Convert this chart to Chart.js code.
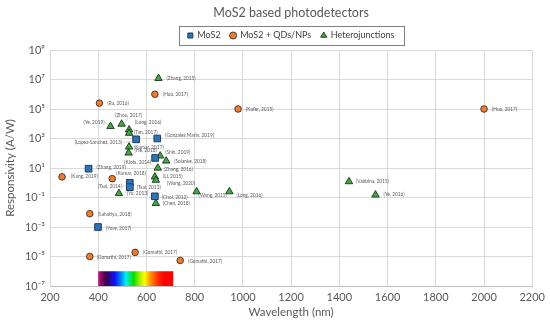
<!DOCTYPE html>
<html>
<head>
<meta charset="utf-8">
<title>MoS2 based photodetectors</title>
<script src="https://cdn.jsdelivr.net/npm/chart.js@4.4.1/dist/chart.umd.min.js"></script>
<style>
  html, body { margin: 0; padding: 0; background: #fff; }
  #wrap { width: 550px; height: 321px; }
</style>
</head>
<body>
<div id="wrap"><canvas id="chart" width="550" height="321"></canvas></div>
<script>
// Axis ticks
const xTicks = [200, 400, 600, 800, 1000, 1200, 1400, 1600, 1800, 2000, 2200];
const yTicks = [1e-7, 1e-5, 1e-3, 1e-1, 1e1, 1e3, 1e5, 1e7, 1e9];

// MoS2
const mos2Refs = ['(Gonzales Marin, 2019)', '(Lopez-Sanchez, 2013)', '(Klots, 2014)', '(Zhang, 2019)',
    '(Tsai, 2014)', '(Tsai, 2013)', '(Choi, 2012)', '(Yore, 2017)'];
const mos2Wavelength = [645, 557, 636, 360, 531, 531, 635, 399];
const mos2Responsivity = [1000, 880, 48, 9, 1.0, 0.5, 0.12, 1e-3];

// MoS2 + QDs/NPs
const qdRefs = ['(Huo, 2017)', '(Ra, 2016)', '(Kufer, 2015)', '(Huo, 2017)', '(Kang, 2019)', '(Kumar, 2018)',
    '(Sahatiya, 2018)', '(Gomathi, 2017)', '(Gomathi, 2017)', '(Gomathi, 2017)'];
const qdWavelength = [635, 405, 980, 2000, 250, 458, 365, 365, 553, 740];
const qdResponsivity = [1e6, 2.5e5, 1e5, 1e5, 2.5, 1.9, 8e-3, 1e-5, 1.9e-5, 5.4e-6];

// Heterojunctions
const hetRefs = ['(Zhang, 2015)', '(Zhou, 2017)', '(Ye, 2019)', '(Long, 2016)', '(Tan, 2017)', '(Kumar, 2017)',
    '(He, 2018)', '(Shin, 2019)', '(Solanke, 2018)', '(Zhang, 2016)', '(Li, 2015)', '(Wang, 2020)',
    '(Yu, 2013)', '(Chen, 2018)', '(Wang, 2015)', '(Long, 2016)', '(Vabbina, 2015)', '(Ye, 2016)'];
const hetWavelength = [650, 497, 451, 528, 528, 528, 526, 657, 682, 647, 635, 639, 486, 639, 808, 944, 1440, 1550];
const hetResponsivity = [1.2e7, 9.5e3, 6.6e3, 3.9e3, 2.3e3, 270, 105, 66, 30, 10, 2.5, 1.5, 0.19, 0.04, 0.25, 0.25, 1.2, 0.15];

// Visible spectrum band drawn under the axis
const spectrumRange = [400, 711];
const spectrumBand = [1e-7, 1e-6];

// Label placement next to each point: [dx, dy, side, leader]
const mos2LabelPos = [[8, -3, 'r'], [-14, 3, 'l', true], [-4, 4, 'l'], [8, -1, 'r'],
    [-8, 4, 'l', true], [7, 0, 'r'], [7, 1, 'r'], [8, 1, 'r']];
const qdLabelPos = [[8, 0, 'r'], [8, 0, 'r'], [8, 0, 'r'], [8, 0, 'r'], [9, 0, 'r'], [4, -5, 'r'],
    [8, 1, 'r'], [7, 1, 'r'], [8, 0, 'r'], [8, 1, 'r']];
const hetLabelPos = [[8, 0, 'r'], [7, -9, 'c', true], [-6, -4, 'l', true], [6, -7, 'r'], [5, -1, 'r'],
    [5, 1, 'r'], [6, -2, 'r'], [5, -3, 'r'], [8, 0, 'r'], [6, 1, 'r'], [8, 0, 'r'], [11, 3, 'r'],
    [8, 0, 'r'], [7, 0, 'r'], [2, 4, 'r'], [7, 4, 'r'], [7, 0, 'r'], [8, 0, 'r']];

const FONT = 'Lato, "DejaVu Sans", sans-serif';
const SUP = { '-': '\u207B', '0': '\u2070', '1': '\u00B9', '2': '\u00B2', '3': '\u00B3', '4': '\u2074',
    '5': '\u2075', '6': '\u2076', '7': '\u2077', '8': '\u2078', '9': '\u2079' };

function toPoints(xs, ys) {
    return xs.map((x, i) => ({ x: x, y: ys[i] }));
}

function powerLabel(v) {
    const e = Math.round(Math.log10(v));
    return '10' + String(e).split('').map(c => SUP[c]).join('');
}

// rainbow bar from 400 to ~710 nm
const spectrumBar = {
    id: 'spectrumBar',
    beforeDatasetsDraw(chart) {
        const { ctx, scales: { x, y } } = chart;
        const x0 = x.getPixelForValue(spectrumRange[0]);
        const x1 = x.getPixelForValue(spectrumRange[1]);
        const y0 = y.getPixelForValue(spectrumBand[1]);
        const y1 = y.getPixelForValue(spectrumBand[0]);
        const g = ctx.createLinearGradient(x0, 0, x1, 0);
        g.addColorStop(0.00, '#c0147a');
        g.addColorStop(0.10, '#3c0045');
        g.addColorStop(0.22, '#1010ff');
        g.addColorStop(0.30, '#0080ff');
        g.addColorStop(0.37, '#00f0f0');
        g.addColorStop(0.47, '#00e000');
        g.addColorStop(0.56, '#b0f000');
        g.addColorStop(0.62, '#ffff00');
        g.addColorStop(0.70, '#ff8c00');
        g.addColorStop(0.80, '#ff2a00');
        g.addColorStop(0.88, '#ff0000');
        g.addColorStop(1.00, '#ff0000');
        ctx.save();
        ctx.fillStyle = g;
        ctx.fillRect(x0, y0, x1 - x0, y1 - y0);
        ctx.restore();
    }
};

// small reference text beside every marker
const pointLabels = {
    id: 'pointLabels',
    afterDatasetsDraw(chart) {
        const ctx = chart.ctx;
        ctx.save();
        ctx.font = '4.8px ' + FONT;
        ctx.fillStyle = '#595959';
        ctx.textBaseline = 'middle';
        chart.data.datasets.forEach((ds, i) => {
            const meta = chart.getDatasetMeta(i);
            meta.data.forEach((pt, j) => {
                const [dx, dy, side, leader] = ds.labelPos[j];
                const lx = pt.x + dx;
                const ly = pt.y + dy;
                ctx.textAlign = side === 'l' ? 'right' : (side === 'c' ? 'center' : 'left');
                ctx.fillText(ds.refs[j], lx, ly);
                if (leader) {
                    ctx.strokeStyle = '#a6a6a6';
                    ctx.lineWidth = 0.5;
                    ctx.beginPath();
                    ctx.moveTo(pt.x + Math.sign(dx) * 3, pt.y + Math.sign(dy) * 2);
                    ctx.lineTo(lx - (side === 'r' ? 1 : 0), ly + (side === 'c' ? 3 : 0));
                    ctx.stroke();
                }
            });
        });
        ctx.restore();
    }
};

// framed legend like the original
const legendFrame = {
    id: 'legendFrame',
    afterDraw(chart) {
        const boxes = chart.legend && chart.legend.legendHitBoxes;
        if (!boxes || !boxes.length) return;
        const ctx = chart.ctx;
        const left = Math.min(...boxes.map(b => b.left)) - 9;
        const right = Math.max(...boxes.map(b => b.left + b.width)) + 9;
        const top = Math.min(...boxes.map(b => b.top)) - 5;
        const bottom = Math.max(...boxes.map(b => b.top + b.height)) + 5;
        ctx.save();
        ctx.strokeStyle = '#808080';
        ctx.lineWidth = 1;
        ctx.strokeRect(Math.round(left) + 0.5, Math.round(top) + 0.5, Math.round(right - left), Math.round(bottom - top));
        ctx.restore();
    }
};

new Chart(document.getElementById('chart').getContext('2d'), {
    type: 'scatter',
    data: {
        datasets: [{
            label: 'MoS2',
            data: toPoints(mos2Wavelength, mos2Responsivity),
            refs: mos2Refs,
            labelPos: mos2LabelPos,
            pointStyle: 'rect',
            pointRadius: 4.7,
            backgroundColor: '#2e75b6',
            borderColor: '#1f3a60',
            borderWidth: 1
        }, {
            label: 'MoS2 + QDs/NPs',
            data: toPoints(qdWavelength, qdResponsivity),
            refs: qdRefs,
            labelPos: qdLabelPos,
            pointStyle: 'circle',
            pointRadius: 3.3,
            backgroundColor: '#ed7d31',
            borderColor: '#40301f',
            borderWidth: 0.9
        }, {
            label: 'Heterojunctions',
            data: toPoints(hetWavelength, hetResponsivity),
            refs: hetRefs,
            labelPos: hetLabelPos,
            pointStyle: 'triangle',
            pointRadius: 4.3,
            backgroundColor: '#43a843',
            borderColor: '#1c331c',
            borderWidth: 0.9
        }]
    },
    options: {
        responsive: false,
        animation: false,
        devicePixelRatio: 1,
        layout: { padding: { left: 0, right: 15, top: 0, bottom: 0 } },
        plugins: {
            title: {
                display: true,
                fullSize: false,
                text: 'MoS2 based photodetectors',
                color: '#595959',
                font: { family: FONT, size: 12.5, weight: 'normal' },
                padding: { top: 5, bottom: 1 }
            },
            legend: {
                position: 'top',
                fullSize: false,
                labels: {
                    usePointStyle: true,
                    boxWidth: 5,
                    boxHeight: 5,
                    padding: 10,
                    color: '#404040',
                    font: { family: FONT, size: 9 }
                }
            },
            tooltip: { enabled: false }
        },
        scales: {
            x: {
                type: 'linear',
                min: 200,
                max: 2200,
                afterBuildTicks: scale => { scale.ticks = xTicks.map(v => ({ value: v })); },
                afterFit: scale => { scale.height = 35; },
                grid: { color: '#d9d9d9', drawTicks: false },
                border: { color: '#bfbfbf' },
                ticks: { color: '#595959', padding: 5, font: { family: FONT, size: 11 }, callback: v => String(v) },
                title: {
                    display: true,
                    text: 'Wavelength (nm)',
                    color: '#595959',
                    font: { family: FONT, size: 11.5 },
                    padding: { top: 0, bottom: 2 }
                }
            },
            y: {
                type: 'logarithmic',
                min: 1e-7,
                max: 1e9,
                afterBuildTicks: scale => { scale.ticks = yTicks.map(v => ({ value: v })); },
                afterFit: scale => { scale.width = 50; },
                grid: { color: '#d9d9d9', drawTicks: false },
                border: { color: '#d9d9d9' },
                ticks: { color: '#595959', padding: 5, font: { family: FONT, size: 11 }, callback: v => powerLabel(v) },
                title: {
                    display: true,
                    text: 'Responsivity (A/W)',
                    color: '#595959',
                    font: { family: FONT, size: 11.5 },
                    padding: { top: 3, bottom: 0 }
                }
            }
        }
    },
    plugins: [spectrumBar, pointLabels, legendFrame]
});
</script>
</body>
</html>
